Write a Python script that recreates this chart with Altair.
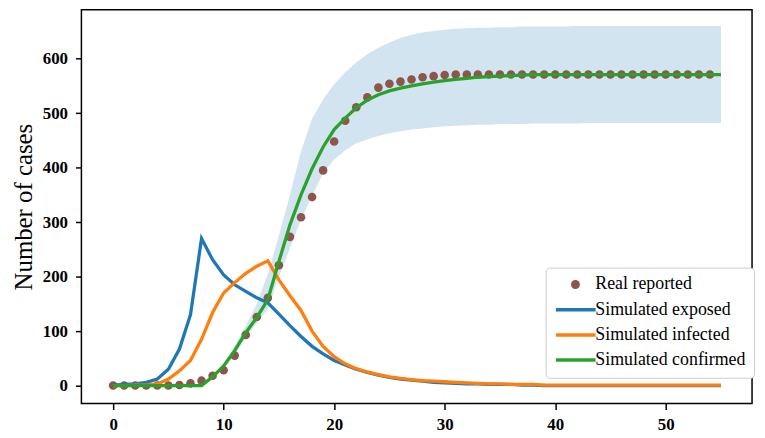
import altair as alt
import pandas as pd

# ---- data ----
days_real = list(range(0, 55))
real_reported = [0, 0, 0, 0, 0, 0, 1, 4, 9, 18, 28, 55, 93, 126, 161, 221, 273, 309,
                 346, 395, 448, 486, 511, 529, 547, 554, 558, 562, 566, 568, 570,
                 571, 571, 571, 571, 571, 571, 571, 571, 571, 571, 571, 571, 571,
                 571, 571, 571, 571, 571, 571, 571, 571, 571, 571, 571]

days_sim = list(range(0, 56))
sim_exposed = [1, 2, 3, 6, 12, 30, 67, 130, 270, 231, 203, 185, 173, 161, 152, 131,
               110, 90, 72, 58, 46, 38, 30, 24, 19, 15, 12, 10, 8, 6, 5, 4, 3, 3, 2,
               2, 2, 1, 1, 0, 0, 0, 0, 0, 0, 0, 0, 0, 0, 0, 0, 0, 0, 0, 0, 0]
sim_infected = [0, 0, 1, 1, 3, 12, 27, 46, 85, 134, 170, 189, 206, 219, 229, 194,
                165, 138, 100, 72, 53, 40, 31, 25, 20, 16, 13, 11, 9, 8, 7, 6, 5, 4,
                3, 3, 2, 2, 2, 1, 1, 1, 1, 1, 1, 1, 1, 1, 1, 1, 1, 1, 1, 1, 1, 1]
sim_confirmed = [0, 0, 0, 0, 0, 0, 0, 0, 0, 16, 36, 64, 97, 125, 158, 228, 295, 350,
                 398, 438, 470, 491, 510, 524, 534, 541, 546, 550, 554, 557, 560, 562,
                 564, 566, 567, 568, 569, 570, 571, 571, 571, 571, 571, 571, 571, 571,
                 571, 571, 571, 571, 571, 571, 571, 571, 571, 571]
band_lower = [0, 0, 0, 0, 0, 0, 0, 0, 0, 14, 32, 57, 88, 115, 140, 200, 252, 305,
              348, 390, 415, 432, 445, 452, 458, 463, 467, 470, 472, 474, 476, 477,
              478, 479, 479, 480, 480, 480, 481, 481, 481, 481, 481, 482, 482, 482,
              482, 482, 482, 482, 482, 482, 482, 482, 482, 482]
band_upper = [0, 0, 0, 0, 0, 0, 0, 0, 0, 18, 40, 72, 110, 150, 205, 275, 350, 430,
              490, 525, 553, 575, 593, 608, 620, 630, 638, 644, 648, 651, 653, 655,
              656, 657, 657, 658, 658, 659, 659, 659, 659, 659, 660, 660, 660, 660,
              660, 660, 660, 660, 660, 660, 660, 660, 660, 660]

series_names = ["Real reported", "Simulated exposed", "Simulated infected", "Simulated confirmed"]
series_colors = ["#8c564b", "#1f77b4", "#ff7f0e", "#2ca02c"]

x_ticks = [0, 10, 20, 30, 40, 50]
y_ticks = [0, 100, 200, 300, 400, 500, 600]

# ---- tables ----
real_df = pd.DataFrame({"day": days_real, "value": real_reported, "series": series_names[0]})
lines_df = pd.concat([
    pd.DataFrame({"day": days_sim, "value": sim_exposed, "series": series_names[1]}),
    pd.DataFrame({"day": days_sim, "value": sim_infected, "series": series_names[2]}),
    pd.DataFrame({"day": days_sim, "value": sim_confirmed, "series": series_names[3]}),
])
band_df = pd.DataFrame({"day": days_sim, "lo": band_lower, "hi": band_upper})

FONT = "Liberation Serif"
xscale = alt.Scale(domain=[-2.87, 57.81], nice=False, zero=False)
yscale = alt.Scale(domain=[-33, 690], nice=False, zero=False)

xaxis = alt.Axis(values=x_ticks, title=None, grid=False, domain=False,
                 labelFont=FONT, labelFontSize=17, labelFontWeight="bold",
                 labelColor="black", tickColor="black", tickWidth=1.5, tickSize=6,
                 labelPadding=7)
yaxis = alt.Axis(values=y_ticks, title="Number of cases", grid=False, domain=False,
                 labelFont=FONT, labelFontSize=17, labelFontWeight="bold",
                 labelColor="black", tickColor="black", tickWidth=1.5, tickSize=6,
                 labelPadding=8, titleFont=FONT, titleFontSize=25,
                 titleFontWeight="normal", titleColor="black", titlePadding=6)

LX, LY = 468, 260
LINE_SYMBOL = "M-4,0H4"
# legend of the lines (all four labels; first symbol invisible, the dot is drawn by the point legend)
line_legend = alt.Legend(
    title=None, orient="none", legendX=LX, legendY=LY,
    fillColor="white", strokeColor="#cccccc", cornerRadius=4, padding=8,
    labelFont=FONT, labelFontSize=18, labelColor="black", labelLimit=400,
    symbolType=LINE_SYMBOL, symbolSize=100, symbolStrokeWidth=3.5,
    symbolOffset=13.3, labelOffset=10.7, rowPadding=7.4, zindex=0,
)
point_legend = alt.Legend(
    title=None, orient="none", legendX=LX, legendY=LY, padding=8,
    labelFont=FONT, labelFontSize=18, labelExpr="''",
    symbolType="circle", symbolSize=80, symbolOffset=13, symbolOpacity=1,
    labelOffset=4, zindex=1,
)

band = alt.Chart(band_df).mark_area(color="#1f77b4", opacity=0.2).encode(
    x=alt.X("day:Q", scale=xscale, axis=xaxis),
    y=alt.Y("lo:Q", scale=yscale, axis=yaxis),
    y2="hi:Q",
)
points = alt.Chart(real_df).mark_circle(size=75, opacity=1).encode(
    x=alt.X("day:Q", scale=xscale),
    y=alt.Y("value:Q", scale=yscale),
    color=alt.Color("series:N",
                    scale=alt.Scale(domain=series_names[:1], range=series_colors[:1]),
                    legend=point_legend),
)
lines = alt.Chart(lines_df).mark_line(strokeWidth=3.3).encode(
    x=alt.X("day:Q", scale=xscale),
    y=alt.Y("value:Q", scale=yscale),
    color=alt.Color("series:N",
                    scale=alt.Scale(domain=series_names,
                                    range=["rgba(0,0,0,0)"] + series_colors[1:]),
                    legend=line_legend),
    order=alt.Order("day:Q"),
)

chart = alt.layer(band, points, lines).resolve_scale(color="independent").properties(
    width=676, height=397,
    autosize=alt.AutoSizeParams(type="none"),
    padding={"left": 74, "top": 0, "right": 5, "bottom": 30},
).configure_view(stroke="black", strokeWidth=1.5)

chart.save("out.html", embed_options={"renderer": "svg", "actions": False})
